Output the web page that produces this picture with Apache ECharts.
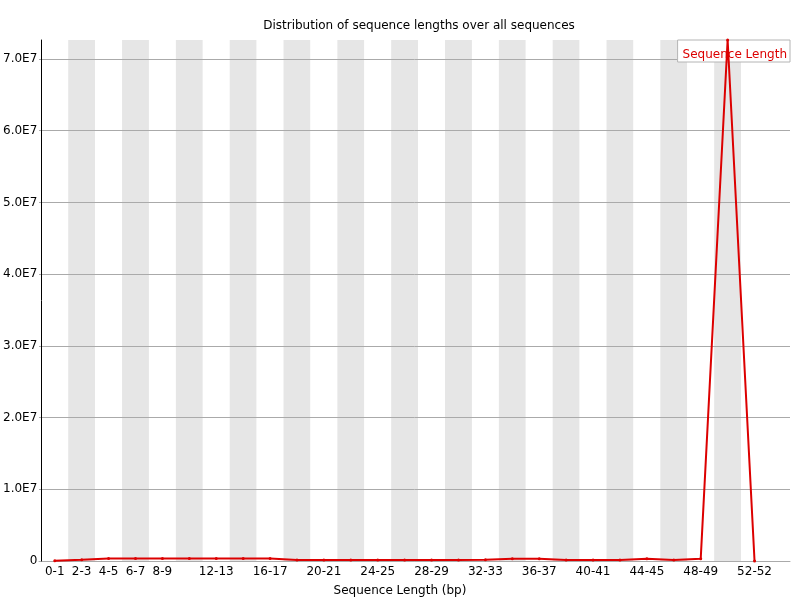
<!DOCTYPE html>
<html>
<head>
<meta charset="utf-8">
<script src="https://cdn.jsdelivr.net/npm/echarts@6/dist/echarts.min.js"></script>
<style>html,body{margin:0;padding:0;background:#fff}#c{width:800px;height:600px}</style>
</head>
<body>
<div id="c"></div>
<script>
const categories = ['0-1','2-3','4-5','6-7','8-9','10-11','12-13','14-15','16-17','18-19','20-21','22-23','24-25','26-27','28-29','30-31','32-33','34-35','36-37','38-39','40-41','42-43','44-45','46-47','48-49','50-51','52-52'];
const seqLength = [20000,180000,350000,350000,350000,350000,350000,350000,350000,150000,150000,150000,150000,150000,150000,150000,180000,330000,330000,150000,150000,150000,300000,150000,300000,72650000,0];
const yMax = 72650000;
const yInterval = 10000000;
const shownLabels = ['0-1','2-3','4-5','6-7','8-9','12-13','16-17','20-21','24-25','28-29','32-33','36-37','40-41','44-45','48-49','52-52'];

const font = 'DejaVu Sans';
const chart = echarts.init(document.getElementById('c'), null, {renderer: 'canvas'});
const yFmt = v => v === 0 ? '0' : (v / 1e7).toFixed(1) + 'E7';

chart.setOption({
  animation: false,
  backgroundColor: '#ffffff',
  textStyle: {fontFamily: font},
  title: [
    {text: 'Distribution of sequence lengths over all sequences', left: 414, top: 15, textAlign: 'center',
     textStyle: {fontFamily: font, fontSize: 12, fontWeight: 'normal', color: '#000'}},
    {text: 'Sequence Length (bp)', left: 'center', top: 580,
     textStyle: {fontFamily: font, fontSize: 12, fontWeight: 'normal', color: '#000'}}
  ],
  legend: {
    data: ['Sequence Length'], right: 10, top: 40, icon: 'none', itemWidth: 0, itemGap: 0,
    backgroundColor: '#fff', borderColor: '#b4b4b4', borderWidth: 1, padding: [8, 3, 1, 0],
    textStyle: {fontFamily: font, fontSize: 12, color: '#dc0000'}
  },
  grid: [
    {left: 39, top: 40, bottom: 39, width: 729, containLabel: false},
    {left: 39, top: 40, bottom: 39, right: 10, containLabel: false}
  ],
  xAxis: [
    {type: 'category', gridIndex: 0, data: categories, boundaryGap: true,
     axisLine: {show: false}, axisTick: {show: false},
     axisLabel: {fontFamily: font, fontSize: 12, color: '#000', margin: 5,
       interval: (i, v) => shownLabels.includes(v)},
     splitLine: {show: false},
     splitArea: {show: true, interval: 0, areaStyle: {color: ['#ffffff', '#e6e6e6']}}},
    {type: 'value', gridIndex: 1, min: 0, max: 1, z: 2,
     axisLine: {show: true, lineStyle: {color: '#aaaaaa', width: 1}},
     axisTick: {show: false}, axisLabel: {show: false}, splitLine: {show: false}}
  ],
  yAxis: [
    {type: 'value', gridIndex: 0, min: 0, max: yMax, interval: yInterval, z: 3,
     axisLine: {show: true, lineStyle: {color: '#000', width: 1}},
     axisTick: {show: false},
     axisLabel: {fontFamily: font, fontSize: 12, color: '#000', margin: 4, formatter: yFmt, showMaxLabel: false},
     splitLine: {show: false}},
    {type: 'value', gridIndex: 1, min: 0, max: yMax, interval: yInterval, z: 2,
     axisLine: {show: false}, axisTick: {show: false}, axisLabel: {show: false},
     splitLine: {show: true, showMaxLine: false, lineStyle: {color: '#aaaaaa', width: 1}}}
  ],
  series: [{
    name: 'Sequence Length', type: 'line', xAxisIndex: 0, yAxisIndex: 0, z: 4,
    data: seqLength, color: '#dc0000',
    lineStyle: {color: '#dc0000', width: 2},
    symbol: 'circle', symbolSize: 3, showSymbol: true,
    itemStyle: {color: '#dc0000'}
  }]
});
</script>
</body>
</html>
